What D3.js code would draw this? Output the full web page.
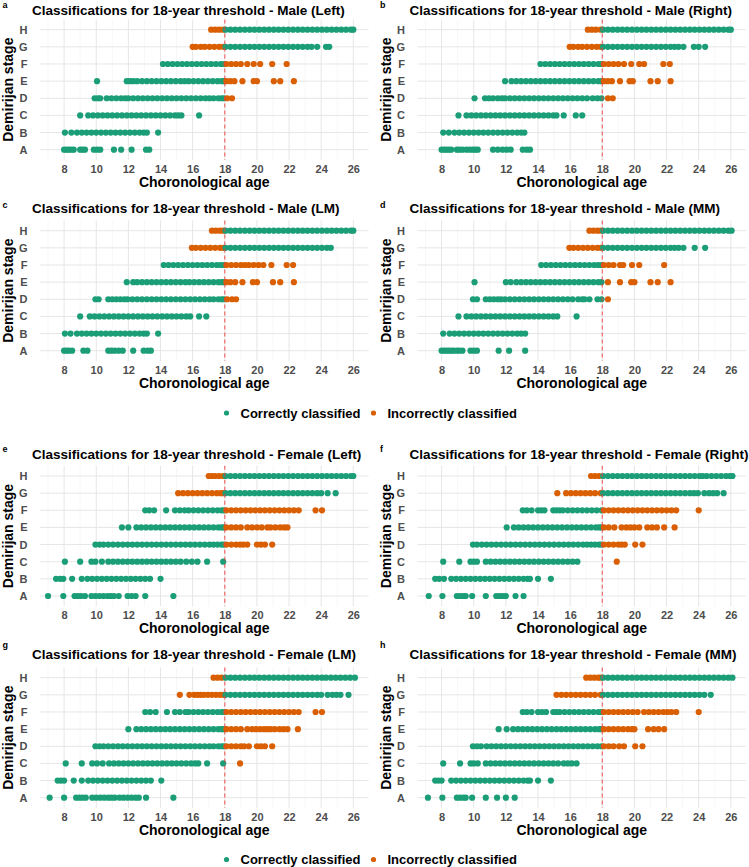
<!DOCTYPE html>
<html>
<head>
<meta charset="utf-8">
<script src="https://cdn.jsdelivr.net/npm/d3@7"></script>
<style>
  body { margin: 0; background: #fff; }
  text { font-family: "Liberation Sans", Arial, sans-serif; }
</style>
</head>
<body>
<div id="chart"></div>
<script>
// === Colours (Dark2 green / orange) ===
const COLOR_OK = "#1b9e77";   // correctly classified
const COLOR_BAD = "#d95f02";  // incorrectly classified

// === Axis values ===
const stages = ["A", "B", "C", "D", "E", "F", "G", "H"];
const adultStages = ["G", "H"];          // stages that predict >= 18 years
const threshold = 18;
const xTicks = [8, 10, 12, 14, 16, 18, 20, 22, 24, 26];
const xMinor = [7, 9, 11, 13, 15, 17, 19, 21, 23, 25];
const legendLabels = ["Correctly classified", "Incorrectly classified"];

// === Ages per stage (A..H), one array per panel ===
const maleLeft = [
  [8.0, 8.15, 8.3, 8.45, 8.6, 9.0, 9.15, 9.3, 9.85, 10.05, 10.25, 11.1, 11.55, 12.2, 13.1, 13.3],
  [8.05, 8.45, 8.8, 9.1, 9.4, 9.7, 10.0, 10.3, 10.6, 10.9, 11.2, 11.5, 11.8, 12.1, 12.4, 12.7, 12.95, 13.15, 13.85],
  [9.0, 9.5, 9.8, 10.1, 10.4, 10.7, 11.0, 11.3, 11.6, 11.9, 12.2, 12.5, 12.8, 13.1, 13.4, 13.7, 14.0, 14.3, 14.6, 14.9, 15.1, 15.3, 16.4],
  [9.9, 10.1, 10.25, 10.65, 10.95, 11.25, 11.55, 11.8, 12.0, 12.3, 12.6, 12.9, 13.2, 13.5, 13.8, 14.1, 14.4, 14.7, 15.0, 15.3, 15.6, 15.9, 16.2, 16.5, 16.8, 17.05, 17.3, 17.6, 17.8, 17.95, 18.15, 18.45],
  [10.05, 11.9, 12.1, 12.3, 12.55, 12.85, 13.15, 13.45, 13.75, 14.05, 14.35, 14.65, 14.95, 15.25, 15.5, 15.75, 16.05, 16.35, 16.65, 16.95, 17.25, 17.55, 17.8, 17.95, 18.1, 18.35, 18.6, 19.1, 19.8, 20.0, 21.05, 21.45, 22.3],
  [14.15, 14.45, 14.75, 15.05, 15.35, 15.65, 15.95, 16.25, 16.55, 16.85, 17.15, 17.45, 17.75, 17.95, 18.1, 18.4, 18.7, 19.0, 19.4, 19.8, 20.2, 20.95, 21.85],
  [16.0, 16.2, 16.5, 16.75, 17.05, 17.35, 17.65, 17.9, 18.05, 18.35, 18.65, 18.95, 19.25, 19.55, 19.85, 20.15, 20.45, 20.75, 21.05, 21.35, 21.65, 21.95, 22.25, 22.55, 22.85, 23.15, 23.4, 23.75, 24.3, 24.5],
  [17.15, 17.4, 17.65, 17.9, 18.05, 18.35, 18.65, 18.95, 19.25, 19.55, 19.85, 20.15, 20.45, 20.75, 21.05, 21.35, 21.65, 21.95, 22.25, 22.55, 22.85, 23.15, 23.45, 23.75, 24.05, 24.35, 24.65, 24.95, 25.25, 25.55, 25.85, 26.0]
];

const maleRight = [
  [8.0, 8.15, 8.3, 8.45, 8.6, 8.95, 9.1, 9.3, 9.55, 9.75, 9.95, 10.1, 10.25, 11.2, 11.5, 11.8, 12.05, 12.3, 13.05, 13.3, 13.5],
  [8.1, 8.45, 8.8, 9.1, 9.4, 9.7, 10.0, 10.3, 10.6, 10.9, 11.2, 11.5, 11.8, 12.1, 12.4, 12.7, 12.95, 13.15],
  [9.05, 9.55, 9.85, 10.15, 10.45, 10.75, 11.05, 11.35, 11.65, 11.95, 12.25, 12.55, 12.85, 13.15, 13.45, 13.75, 14.05, 14.35, 14.65, 14.95, 15.15, 15.6, 16.35, 16.75],
  [10.05, 10.7, 10.95, 11.2, 11.5, 11.75, 11.95, 12.25, 12.55, 12.85, 13.15, 13.45, 13.75, 14.05, 14.35, 14.65, 14.95, 15.25, 15.55, 15.85, 16.15, 16.45, 16.75, 17.05, 17.4, 17.7, 17.95, 18.35, 18.65],
  [11.95, 12.35, 12.65, 12.95, 13.25, 13.55, 13.85, 14.15, 14.45, 14.75, 15.05, 15.35, 15.65, 15.95, 16.25, 16.55, 16.85, 17.15, 17.45, 17.75, 17.95, 18.1, 18.35, 18.6, 19.1, 19.7, 19.9, 21.0, 21.45, 22.25],
  [14.15, 14.45, 14.75, 15.05, 15.35, 15.65, 15.95, 16.25, 16.55, 16.85, 17.15, 17.45, 17.75, 17.95, 18.1, 18.4, 18.7, 19.0, 19.35, 19.8, 20.3, 20.6, 21.8, 22.2],
  [15.97, 16.2, 16.5, 16.75, 17.05, 17.35, 17.65, 17.9, 18.05, 18.35, 18.65, 18.95, 19.25, 19.55, 19.85, 20.15, 20.45, 20.75, 21.05, 21.35, 21.65, 21.95, 22.25, 22.5, 22.75, 23.05, 23.7, 24.0, 24.4],
  [17.1, 17.35, 17.6, 17.9, 18.05, 18.35, 18.65, 18.95, 19.25, 19.55, 19.85, 20.15, 20.45, 20.75, 21.05, 21.35, 21.65, 21.95, 22.25, 22.55, 22.85, 23.15, 23.45, 23.75, 24.05, 24.35, 24.65, 24.95, 25.25, 25.55, 25.85, 26.0]
];

const maleLM = [
  [8.0, 8.15, 8.3, 8.5, 9.2, 9.45, 10.75, 10.95, 11.15, 11.4, 11.65, 12.3, 12.95, 13.2, 13.4],
  [8.05, 8.4, 8.8, 9.1, 9.4, 9.7, 10.0, 10.3, 10.6, 10.9, 11.2, 11.5, 11.8, 12.1, 12.4, 12.7, 12.95, 13.15, 13.85],
  [9.0, 9.6, 9.9, 10.2, 10.5, 10.8, 11.1, 11.4, 11.7, 12.0, 12.3, 12.6, 12.9, 13.2, 13.5, 13.8, 14.1, 14.4, 14.7, 15.0, 15.3, 15.6, 15.85, 16.4, 16.85],
  [9.95, 10.15, 10.75, 11.0, 11.25, 11.5, 11.75, 11.95, 12.25, 12.55, 12.85, 13.15, 13.45, 13.75, 14.05, 14.35, 14.65, 14.95, 15.25, 15.55, 15.85, 16.15, 16.45, 16.75, 17.05, 17.3, 17.6, 17.8, 17.95, 18.15, 18.45, 18.7],
  [11.9, 12.3, 12.55, 12.85, 13.15, 13.45, 13.75, 14.05, 14.35, 14.65, 14.95, 15.25, 15.55, 15.8, 16.1, 16.4, 16.7, 17.0, 17.3, 17.6, 17.8, 17.95, 18.1, 18.35, 18.65, 19.1, 19.75, 20.0, 21.0, 21.45, 22.3],
  [14.2, 14.5, 14.8, 15.1, 15.4, 15.7, 16.0, 16.3, 16.6, 16.9, 17.2, 17.5, 17.75, 17.95, 18.1, 18.4, 18.7, 19.0, 19.25, 19.5, 19.8, 20.1, 20.4, 20.9, 21.85, 22.25],
  [15.95, 16.2, 16.5, 16.8, 17.1, 17.4, 17.7, 17.9, 18.05, 18.35, 18.65, 18.95, 19.25, 19.55, 19.85, 20.15, 20.45, 20.75, 21.05, 21.35, 21.65, 21.95, 22.25, 22.55, 22.85, 23.15, 23.45, 23.75, 24.05, 24.35, 24.6],
  [17.2, 17.45, 17.7, 17.9, 18.05, 18.35, 18.65, 18.95, 19.25, 19.55, 19.85, 20.15, 20.45, 20.75, 21.05, 21.35, 21.65, 21.95, 22.25, 22.55, 22.85, 23.15, 23.45, 23.75, 24.05, 24.35, 24.65, 24.95, 25.25, 25.55, 25.85, 26.0]
];

const maleMM = [
  [8.0, 8.15, 8.3, 8.45, 8.6, 8.75, 8.95, 9.1, 9.3, 9.8, 10.0, 10.2, 11.55, 12.2, 13.2],
  [8.1, 8.5, 8.8, 9.1, 9.4, 9.7, 10.0, 10.3, 10.6, 10.9, 11.2, 11.5, 11.8, 12.1, 12.4, 12.7, 12.95, 13.2],
  [9.05, 9.55, 9.85, 10.15, 10.45, 10.75, 11.05, 11.35, 11.65, 11.95, 12.25, 12.55, 12.85, 13.15, 13.45, 13.75, 14.05, 14.35, 14.65, 14.95, 15.2, 16.4],
  [9.95, 10.2, 10.75, 11.0, 11.25, 11.5, 11.7, 11.95, 12.25, 12.55, 12.85, 13.15, 13.45, 13.75, 14.05, 14.35, 14.65, 14.95, 15.25, 15.55, 15.85, 16.15, 16.5, 16.75, 16.9, 17.2, 17.7, 17.95, 18.35],
  [10.05, 12.0, 12.3, 12.65, 12.95, 13.25, 13.55, 13.85, 14.15, 14.45, 14.75, 15.05, 15.35, 15.65, 15.95, 16.25, 16.55, 16.85, 17.15, 17.45, 17.75, 17.95, 18.35, 19.1, 19.8, 20.0, 21.0, 21.45, 22.25],
  [14.2, 14.5, 14.8, 15.1, 15.4, 15.7, 16.0, 16.3, 16.6, 16.9, 17.2, 17.5, 17.75, 17.95, 18.1, 18.4, 18.7, 19.1, 19.3, 19.85, 20.3, 21.85],
  [15.95, 16.2, 16.5, 16.8, 17.1, 17.4, 17.7, 17.9, 18.05, 18.35, 18.65, 18.95, 19.25, 19.55, 19.85, 20.15, 20.45, 20.75, 21.05, 21.35, 21.65, 21.95, 22.25, 22.5, 22.75, 23.05, 23.75, 24.4],
  [17.2, 17.45, 17.7, 17.9, 18.05, 18.35, 18.65, 18.95, 19.25, 19.55, 19.85, 20.15, 20.45, 20.75, 21.05, 21.35, 21.65, 21.95, 22.25, 22.55, 22.85, 23.15, 23.45, 23.75, 24.05, 24.35, 24.65, 24.95, 25.25, 25.55, 25.85, 26.05]
];

const femaleLeft = [
  [7.0, 7.95, 8.65, 8.85, 9.05, 9.3, 9.7, 9.95, 10.2, 10.45, 10.7, 10.9, 11.1, 11.4, 11.95, 12.2, 12.45, 13.05, 14.8],
  [7.5, 7.75, 7.95, 8.5, 9.1, 9.45, 9.75, 10.05, 10.35, 10.65, 10.95, 11.25, 11.55, 11.85, 12.15, 12.45, 12.75, 13.05, 13.35, 14.0],
  [8.05, 9.0, 9.7, 9.95, 10.35, 10.75, 11.05, 11.35, 11.65, 11.95, 12.25, 12.55, 12.85, 13.15, 13.45, 13.75, 14.05, 14.35, 14.65, 14.95, 15.25, 15.6, 15.95, 16.3, 16.9, 17.9],
  [9.95, 10.2, 10.45, 10.75, 11.05, 11.35, 11.65, 11.95, 12.25, 12.55, 12.85, 13.15, 13.45, 13.75, 14.05, 14.35, 14.65, 14.95, 15.25, 15.55, 15.85, 16.15, 16.45, 16.75, 17.05, 17.3, 17.55, 17.8, 17.95, 18.1, 18.4, 18.7, 18.95, 19.15, 19.4, 20.0, 20.25, 20.5, 20.95],
  [11.6, 12.0, 12.5, 12.8, 13.1, 13.4, 13.7, 14.0, 14.3, 14.6, 14.9, 15.2, 15.5, 15.8, 16.1, 16.4, 16.7, 17.0, 17.3, 17.6, 17.8, 17.95, 18.1, 18.4, 18.7, 19.0, 19.4, 19.7, 20.0, 20.3, 20.65, 20.85, 21.15, 21.45, 21.7, 21.9],
  [13.05, 13.3, 13.6, 14.35, 14.9, 15.2, 15.5, 15.75, 16.05, 16.35, 16.65, 16.95, 17.25, 17.55, 17.8, 17.95, 18.1, 18.4, 18.7, 19.0, 19.3, 19.6, 19.9, 20.2, 20.5, 20.8, 21.1, 21.4, 21.7, 22.0, 22.3, 22.6, 23.65, 24.05],
  [15.1, 15.4, 15.7, 16.0, 16.3, 16.6, 16.9, 17.2, 17.5, 17.75, 17.9, 18.05, 18.35, 18.65, 18.95, 19.25, 19.55, 19.85, 20.15, 20.45, 20.75, 21.05, 21.35, 21.65, 21.95, 22.25, 22.55, 22.85, 23.15, 23.45, 23.75, 24.0, 24.4, 24.9],
  [17.0, 17.2, 17.4, 17.65, 17.9, 18.05, 18.35, 18.65, 18.95, 19.25, 19.55, 19.85, 20.15, 20.45, 20.75, 21.05, 21.35, 21.65, 21.95, 22.25, 22.55, 22.85, 23.15, 23.45, 23.75, 24.05, 24.35, 24.65, 24.95, 25.25, 25.55, 25.85, 26.0]
];

const femaleRight = [
  [7.2, 8.05, 8.95, 9.15, 9.35, 9.5, 9.9, 10.75, 11.4, 11.6, 11.8, 12.0, 12.6, 13.1],
  [7.6, 7.85, 8.15, 8.6, 8.9, 9.2, 9.5, 9.8, 10.1, 10.4, 10.7, 11.0, 11.3, 11.6, 11.9, 12.2, 12.5, 12.8, 13.1, 13.35, 13.5, 14.0, 14.8],
  [8.1, 9.1, 9.8, 10.0, 10.2, 10.75, 11.05, 11.35, 11.65, 11.95, 12.25, 12.55, 12.85, 13.15, 13.45, 13.75, 14.05, 14.35, 14.65, 14.95, 15.25, 15.55, 15.85, 16.15, 16.45, 18.9],
  [9.95, 10.2, 10.5, 10.8, 11.1, 11.4, 11.7, 12.0, 12.3, 12.6, 12.9, 13.2, 13.5, 13.8, 14.1, 14.4, 14.7, 15.0, 15.3, 15.6, 15.9, 16.2, 16.5, 16.8, 17.05, 17.3, 17.55, 17.8, 17.95, 18.1, 18.4, 18.7, 19.0, 19.2, 19.4, 20.05, 20.5],
  [12.05, 12.5, 12.8, 13.1, 13.4, 13.7, 14.0, 14.3, 14.6, 14.9, 15.2, 15.5, 15.8, 16.1, 16.4, 16.7, 17.0, 17.3, 17.6, 17.8, 17.95, 18.1, 18.4, 18.75, 19.2, 19.5, 19.75, 20.0, 20.3, 20.8, 21.1, 21.4, 21.85, 22.5],
  [13.05, 13.3, 13.6, 14.0, 14.2, 14.4, 14.95, 15.15, 15.35, 15.55, 15.85, 16.15, 16.45, 16.75, 17.05, 17.35, 17.65, 17.95, 18.1, 18.4, 18.7, 19.0, 19.3, 19.6, 19.9, 20.2, 20.5, 20.8, 21.1, 21.4, 21.7, 22.0, 22.3, 22.6, 24.0],
  [15.2, 15.75, 16.05, 16.35, 16.65, 16.95, 17.25, 17.55, 17.9, 18.05, 18.35, 18.65, 18.95, 19.25, 19.55, 19.85, 20.15, 20.45, 20.75, 21.05, 21.35, 21.65, 21.95, 22.25, 22.55, 22.85, 23.15, 23.45, 23.7, 23.95, 24.35, 24.65, 24.9, 25.15, 25.55],
  [17.3, 17.55, 17.8, 18.05, 18.35, 18.65, 18.95, 19.25, 19.55, 19.85, 20.15, 20.45, 20.75, 21.05, 21.35, 21.65, 21.95, 22.25, 22.55, 22.85, 23.15, 23.45, 23.75, 24.05, 24.25, 24.5, 24.8, 25.1, 25.4, 25.7, 25.95, 26.1]
];

const femaleLM = [
  [7.1, 8.0, 8.75, 8.95, 9.15, 9.35, 9.75, 10.0, 10.25, 10.5, 10.75, 10.95, 11.15, 11.45, 11.7, 11.95, 12.2, 12.45, 12.65, 13.1, 14.8],
  [7.6, 7.8, 8.0, 8.6, 9.1, 9.5, 9.8, 10.1, 10.4, 10.7, 11.0, 11.3, 11.6, 11.9, 12.2, 12.5, 12.8, 13.1, 13.4, 14.05],
  [8.1, 9.1, 9.75, 10.05, 10.4, 10.8, 11.1, 11.4, 11.7, 12.0, 12.3, 12.6, 12.9, 13.2, 13.5, 13.8, 14.1, 14.4, 14.7, 15.0, 15.3, 15.6, 15.9, 16.15, 16.35, 16.9, 17.9, 18.95],
  [9.95, 10.2, 10.45, 10.75, 11.05, 11.35, 11.65, 11.95, 12.25, 12.55, 12.85, 13.15, 13.45, 13.75, 14.05, 14.35, 14.65, 14.95, 15.25, 15.55, 15.85, 16.15, 16.45, 16.75, 17.05, 17.3, 17.6, 17.8, 17.95, 18.1, 18.4, 18.7, 19.0, 19.2, 19.5, 20.0, 20.25, 20.5, 20.95],
  [12.0, 12.5, 12.8, 13.1, 13.4, 13.7, 14.0, 14.3, 14.6, 14.9, 15.2, 15.5, 15.8, 16.1, 16.4, 16.7, 17.0, 17.3, 17.6, 17.8, 17.95, 18.1, 18.4, 18.7, 19.0, 19.4, 19.7, 19.95, 20.2, 20.45, 20.65, 20.85, 21.1, 21.4, 21.65, 21.9, 22.55],
  [13.05, 13.35, 13.7, 14.4, 14.9, 15.2, 15.55, 15.75, 16.05, 16.35, 16.65, 16.95, 17.25, 17.55, 17.8, 17.95, 18.1, 18.4, 18.7, 19.0, 19.3, 19.6, 19.9, 20.2, 20.5, 20.8, 21.1, 21.4, 21.7, 22.0, 22.3, 22.6, 23.65, 24.05],
  [15.2, 15.8, 16.1, 16.3, 16.5, 16.7, 16.95, 17.2, 17.45, 17.7, 17.9, 18.05, 18.35, 18.65, 18.95, 19.25, 19.55, 19.85, 20.15, 20.45, 20.75, 21.05, 21.35, 21.65, 21.95, 22.25, 22.55, 22.85, 23.15, 23.45, 23.75, 24.0, 24.4, 24.7, 24.95, 25.2, 25.7],
  [17.3, 17.55, 17.8, 18.05, 18.35, 18.65, 18.95, 19.25, 19.55, 19.85, 20.15, 20.45, 20.75, 21.05, 21.35, 21.65, 21.95, 22.25, 22.55, 22.85, 23.15, 23.45, 23.75, 24.05, 24.3, 24.6, 24.9, 25.2, 25.5, 25.8, 26.1]
];

const femaleMM = [
  [7.15, 8.05, 8.95, 9.15, 9.35, 9.5, 9.9, 10.75, 11.45, 12.0, 12.55],
  [7.6, 7.8, 8.0, 8.6, 8.9, 9.2, 9.5, 9.8, 10.1, 10.4, 10.7, 11.0, 11.3, 11.6, 11.9, 12.2, 12.5, 12.8, 13.1, 13.35, 13.5, 14.0, 14.8],
  [8.1, 9.15, 9.8, 10.0, 10.25, 10.75, 11.05, 11.35, 11.65, 11.95, 12.25, 12.55, 12.85, 13.15, 13.45, 13.75, 14.05, 14.35, 14.65, 14.95, 15.25, 15.6, 15.85, 16.1, 16.4],
  [9.95, 10.2, 10.45, 10.8, 11.1, 11.4, 11.7, 12.0, 12.3, 12.6, 12.9, 13.2, 13.5, 13.8, 14.1, 14.4, 14.7, 15.0, 15.3, 15.6, 15.9, 16.2, 16.5, 16.8, 17.1, 17.4, 17.7, 17.95, 18.1, 18.4, 18.7, 19.05, 19.35, 20.05, 20.5],
  [11.55, 12.05, 12.45, 12.75, 13.05, 13.35, 13.65, 13.95, 14.25, 14.55, 14.85, 15.15, 15.45, 15.75, 16.05, 16.35, 16.65, 16.95, 17.25, 17.55, 17.8, 17.95, 18.1, 18.4, 18.7, 19.0, 19.3, 19.6, 19.85, 20.0, 20.85, 21.2, 21.5, 21.85],
  [13.05, 13.3, 13.6, 14.0, 14.25, 14.5, 14.95, 15.15, 15.35, 15.65, 15.95, 16.25, 16.55, 16.85, 17.15, 17.45, 17.75, 17.95, 18.1, 18.4, 18.7, 19.0, 19.3, 19.6, 19.9, 20.2, 20.6, 20.9, 21.2, 21.5, 21.8, 22.05, 22.3, 22.6, 24.0],
  [15.15, 15.45, 15.75, 16.05, 16.35, 16.65, 16.95, 17.25, 17.55, 17.9, 18.05, 18.35, 18.65, 18.95, 19.25, 19.55, 19.85, 20.15, 20.45, 20.75, 21.05, 21.35, 21.65, 21.95, 22.25, 22.55, 22.85, 23.15, 23.45, 23.75, 24.05, 24.35, 24.75],
  [17.0, 17.25, 17.5, 17.75, 17.9, 18.05, 18.35, 18.65, 18.95, 19.25, 19.55, 19.85, 20.15, 20.45, 20.75, 21.05, 21.35, 21.65, 21.95, 22.25, 22.55, 22.85, 23.15, 23.45, 23.75, 24.05, 24.35, 24.65, 24.95, 25.25, 25.55, 25.85, 26.1]
];

// Panels in reading order (a..h)
const panelLabels = ["a", "b", "c", "d", "e", "f", "g", "h"];
const panelTitles = [
  "Classifications for 18-year threshold - Male (Left)",
  "Classifications for 18-year threshold - Male (Right)",
  "Classifications for 18-year threshold - Male (LM)",
  "Classifications for 18-year threshold - Male (MM)",
  "Classifications for 18-year threshold - Female (Left)",
  "Classifications for 18-year threshold - Female (Right)",
  "Classifications for 18-year threshold - Female (LM)",
  "Classifications for 18-year threshold - Female (MM)"
];
const panelData = [maleLeft, maleRight, maleLM, maleMM, femaleLeft, femaleRight, femaleLM, femaleMM];

// === Layout ===
const W = 749, H = 867;
const colX = [0, 377.5];
const rowTop = [19.4, 220.4, 465.7, 667.4];
const titleY = [15, 212.5, 458.5, 659];
const labelY = [8, 208, 452, 648];
const legendY = [413, 859.5];
const plotLeft = 40, plotRight = 368.6, plotH = 140.6;

const svg = d3.select("#chart").append("svg")
  .attr("width", W).attr("height", H);

const x = d3.scaleLinear().domain([6.5, 26.95]).range([plotLeft, plotRight]);
const y = d3.scalePoint().domain(stages.slice().reverse()).range([0, plotH]).padding(0.6);

// correct when the stage's prediction (adult / minor) agrees with the age
function isCorrect(stage, age) {
  return adultStages.includes(stage) === (age >= threshold);
}

function drawPanel(i) {
  const col = i % 2, row = Math.floor(i / 2);
  const g = svg.append("g").attr("transform", `translate(${colX[col]},${rowTop[row]})`);

  // grid: minor, then major verticals, then stage lines
  g.append("g").selectAll("line").data(xMinor).join("line")
    .attr("x1", d => x(d)).attr("x2", d => x(d))
    .attr("y1", 0).attr("y2", plotH)
    .attr("stroke", "#f2f2f2").attr("stroke-width", 0.6);
  g.append("g").selectAll("line").data(xTicks).join("line")
    .attr("x1", d => x(d)).attr("x2", d => x(d))
    .attr("y1", 0).attr("y2", plotH)
    .attr("stroke", "#e6e6e6").attr("stroke-width", 1);
  g.append("g").selectAll("line").data(stages).join("line")
    .attr("x1", plotLeft).attr("x2", plotRight)
    .attr("y1", d => y(d)).attr("y2", d => y(d))
    .attr("stroke", "#e6e6e6").attr("stroke-width", 1);

  // points
  stages.forEach((s, k) => {
    g.append("g").selectAll("circle").data(panelData[i][k]).join("circle")
      .attr("cx", d => x(d))
      .attr("cy", y(s))
      .attr("r", 3.1)
      .attr("fill", d => isCorrect(s, d) ? COLOR_OK : COLOR_BAD);
  });

  // threshold line
  g.append("line")
    .attr("x1", x(threshold)).attr("x2", x(threshold))
    .attr("y1", 0).attr("y2", plotH)
    .attr("stroke", "#f03c3c").attr("stroke-opacity", 0.75)
    .attr("stroke-width", 1.2).attr("stroke-dasharray", "4,3");

  // axes
  const xa = g.append("g").attr("transform", `translate(0,${plotH})`)
    .call(d3.axisBottom(x).tickValues(xTicks).tickSize(0).tickPadding(5));
  const ya = g.append("g").attr("transform", `translate(${plotLeft},0)`)
    .call(d3.axisLeft(y).tickSize(0).tickPadding(12.5));
  [xa, ya].forEach(a => {
    a.select(".domain").remove();
    a.attr("font-family", null).attr("font-size", null);
    a.selectAll("text")
      .attr("font-size", 11).attr("font-weight", "bold").attr("fill", "#4d4d4d");
  });

  // axis titles
  g.append("text")
    .attr("x", (plotLeft + plotRight) / 2).attr("y", plotH + 26.7)
    .attr("text-anchor", "middle")
    .attr("font-size", 14).attr("font-weight", "bold")
    .text("Choronological age");
  g.append("text")
    .attr("transform", `translate(13,${plotH / 2}) rotate(-90)`)
    .attr("text-anchor", "middle")
    .attr("font-size", 14).attr("font-weight", "bold")
    .text("Demirijan stage");

  // title + panel letter
  svg.append("text")
    .attr("x", colX[col] + 32).attr("y", titleY[row])
    .attr("font-size", 13.5).attr("font-weight", "bold")
    .text(panelTitles[i]);
  svg.append("text")
    .attr("x", colX[col] + 2.5).attr("y", labelY[row])
    .attr("font-size", 9).attr("font-weight", "bold")
    .text(panelLabels[i]);
}

d3.range(panelData.length).forEach(drawPanel);

// legends under each group
const legendDotX = [226.5, 373.5];
const legendColors = [COLOR_OK, COLOR_BAD];
legendY.forEach(ly => {
  const lg = svg.append("g");
  lg.selectAll("circle").data(legendLabels).join("circle")
    .attr("cx", (d, j) => legendDotX[j]).attr("cy", ly)
    .attr("r", 2.6).attr("fill", (d, j) => legendColors[j]);
  lg.selectAll("text").data(legendLabels).join("text")
    .attr("x", (d, j) => legendDotX[j] + 14).attr("y", ly + 4.5)
    .attr("font-size", 13).attr("font-weight", "bold")
    .text(d => d);
});
</script>
</body>
</html>
